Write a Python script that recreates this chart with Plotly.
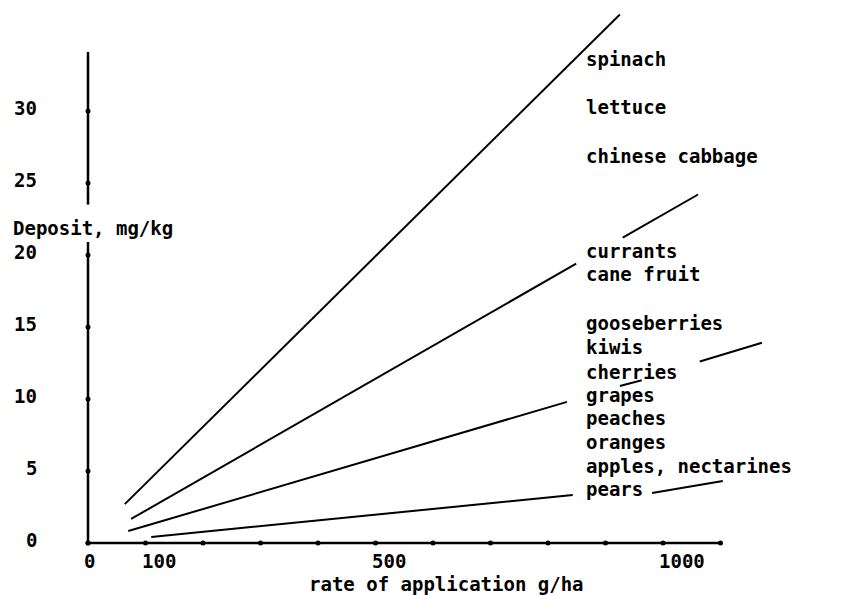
import plotly.graph_objects as go

# ---------------- data ----------------
x_tick_values = [0, 100, 500, 1000]
x_tick_labels = ["0", "100", "500", "1000"]
x_dot_values = [0, 100, 200, 300, 400, 500, 600, 700, 800, 900, 1000, 1100]
y_tick_values = [0, 5, 10, 15, 20, 25, 30]
y_tick_labels = ["0", "5", "10", "15", "20", "25", "30"]

# regression lines (visible segments, gaps where labels cross them)
spinach_x = [64, 925]
spinach_y = [2.7, 36.7]
currants_x = [75, 849, None, 930, 1061]
currants_y = [1.67, 19.4, None, 21.2, 24.2]
grapes_x = [70, 833, None, 925, 963, None, 1064, 1172]
grapes_y = [0.83, 9.8, None, 10.9, 11.3, None, 12.6, 13.9]
pears_x = [110, 843, None, 981, 1104]
pears_y = [0.42, 3.33, None, 3.47, 4.31]

crop_labels = ["spinach", "lettuce", "chinese cabbage", "currants", "cane fruit",
               "gooseberries", "kiwis", "cherries", "grapes", "peaches", "oranges",
               "apples, nectarines", "pears"]
crop_label_y = [33.6, 30.3, 26.9, 20.3, 18.7, 15.3, 13.6, 11.9, 10.3, 8.7, 7.0, 5.35, 3.75]
crop_label_x = 864

# axis extents
x_axis_x = [0, 1103]
x_axis_y = [0, 0]
y_axis_x = [0, 0, None, 0, 0]
y_axis_y = [0, 20.9, None, 23.5, 34.1]

FONT = dict(family="DejaVu Sans Mono", size=19, color="black", weight="bold")

fig = go.Figure()

for xs, ys in [(spinach_x, spinach_y), (currants_x, currants_y),
               (grapes_x, grapes_y), (pears_x, pears_y)]:
    fig.add_trace(go.Scatter(x=xs, y=ys, mode="lines",
                             line=dict(color="black", width=2),
                             connectgaps=False, hoverinfo="skip"))

# axes
fig.add_trace(go.Scatter(x=x_axis_x, y=x_axis_y, mode="lines",
                         line=dict(color="black", width=2.5), hoverinfo="skip"))
fig.add_trace(go.Scatter(x=y_axis_x, y=y_axis_y, mode="lines",
                         line=dict(color="black", width=2.5), connectgaps=False,
                         hoverinfo="skip"))
# tick dots
fig.add_trace(go.Scatter(x=x_dot_values, y=[0] * len(x_dot_values), mode="markers",
                         marker=dict(color="black", size=5), hoverinfo="skip"))
fig.add_trace(go.Scatter(x=[0] * len(y_tick_values), y=y_tick_values, mode="markers",
                         marker=dict(color="black", size=5), hoverinfo="skip"))

annotations = []
for v, t in zip(x_tick_values, x_tick_labels):
    annotations.append(dict(x=v, y=-1.22, text=t, showarrow=False, xanchor="left",
                            yanchor="middle", xshift=-5, font=FONT, borderpad=0))
for v, t in zip(y_tick_values, y_tick_labels):
    annotations.append(dict(x=-87, y=v, text=t, showarrow=False, xanchor="right",
                            yanchor="middle", yshift=3, font=FONT, borderpad=0))
for t, yv in zip(crop_labels, crop_label_y):
    annotations.append(dict(x=crop_label_x, y=yv, text=t, showarrow=False,
                            xanchor="left", yanchor="middle", font=FONT, borderpad=0))
annotations.append(dict(x=624, y=-2.88, text="rate of application g/ha", showarrow=False,
                        xanchor="center", yanchor="middle", font=FONT, borderpad=0))
annotations.append(dict(x=-132, y=21.9, text="Deposit, mg/kg", showarrow=False,
                        xanchor="left", yanchor="middle", font=FONT, borderpad=0))

# the page body adds an 8px offset, so the figure is 8px smaller and the
# ranges are chosen so that the visible window matches the reference layout
fig.update_layout(
    width=835, height=587, autosize=False,
    margin=dict(l=0, r=0, t=0, b=0),
    paper_bgcolor="white", plot_bgcolor="white",
    showlegend=False,
    xaxis=dict(range=[-139.13, 1313.04], visible=False, fixedrange=True),
    yaxis=dict(range=[-3.61, 37.15], visible=False, fixedrange=True),
    annotations=annotations,
)

fig.write_html("out.html", config=dict(displayModeBar=False))
